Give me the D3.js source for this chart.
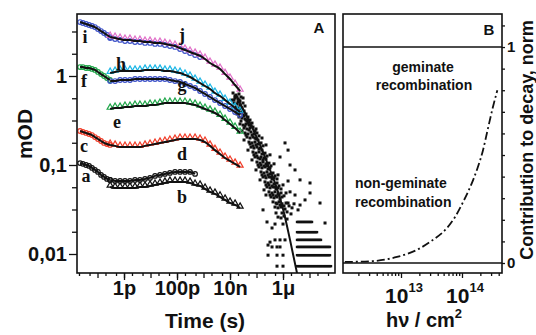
<!DOCTYPE html>
<html>
<head>
<meta charset="utf-8">
<script src="https://cdnjs.cloudflare.com/ajax/libs/d3/7.8.5/d3.min.js"></script>
<style>
  body { margin: 0; background: #fff; }
  text { font-family: "Liberation Sans", Arial, sans-serif; font-weight: bold; fill: #111; }
  .lbl { font-family: "Liberation Serif", "Times New Roman", serif; }
</style>
</head>
<body>
<svg id="chart" width="536" height="335"></svg>
<script>
// ---------- panel A data (time grids in ps, signal in mOD) ----------
var tEarlyPs = [0.022, 0.028, 0.037, 0.048, 0.062, 0.080, 0.104, 0.136, 0.176, 0.228, 0.296];
var tLatePs = [0.30, 0.46, 0.71, 1.09, 1.68, 2.6, 4.0, 6.2, 9.6, 14.8, 22.8, 35, 54, 84, 130, 200,
  310, 480, 740, 1140, 1760, 2700, 4200, 6500, 10000, 15500, 24000];

var iEarly = [4.04, 3.94, 3.84, 3.74, 3.65, 3.55, 3.37, 3.2, 3.04, 2.89, 2.74];
var fEarly = [1.26, 1.26, 1.23, 1.23, 1.2, 1.17, 1.11, 1.05, 1.0, 0.948, 0.902];
var cEarly = [0.241, 0.235, 0.229, 0.223, 0.217, 0.206, 0.196, 0.186, 0.177, 0.172, 0.168];
var aEarly = [0.105, 0.103, 0.1, 0.0977, 0.0928, 0.088, 0.0836, 0.0774, 0.0735, 0.0698, 0.068];

var jLate = [2.74, 2.67, 2.6, 2.54, 2.54, 2.47, 2.47, 2.41, 2.41, 2.35, 2.35, 2.29, 2.23, 2.17,
  2.06, 1.96, 1.86, 1.77, 1.68, 1.55, 1.40, 1.30, 1.2, 1.05, 0.925, 0.792, 0.678];
var iLate = [2.67, 2.6, 2.54, 2.47, 2.47, 2.41, 2.41, 2.35, 2.35, 2.29, 2.29, 2.23, 2.17, 2.12,
  2.01, 1.91, 1.81, 1.72, 1.63];
var hLate = [1.08, 1.11, 1.14, 1.14, 1.14, 1.14, 1.14, 1.17, 1.17, 1.17, 1.17, 1.14, 1.14, 1.11,
  1.08, 1.03, 0.974, 0.902, 0.834, 0.772, 0.714, 0.644, 0.596, 0.537, 0.485, 0.437, 0.394];
var gLate = [0.878, 0.878, 0.902, 0.902, 0.902, 0.925, 0.925, 0.925, 0.925, 0.925, 0.925, 0.925,
  0.902, 0.878, 0.856, 0.813, 0.772, 0.733, 0.678, 0.628, 0.581, 0.537, 0.497, 0.46, 0.426, 0.394, 0.365];
var eLate = [0.426, 0.437, 0.437, 0.449, 0.449, 0.46, 0.46, 0.46, 0.472, 0.472, 0.485, 0.497, 0.497,
  0.497, 0.497, 0.497, 0.485, 0.472, 0.449, 0.426, 0.405, 0.384, 0.355, 0.32, 0.289, 0.26, 0.229];
var dLate = [0.168, 0.164, 0.159, 0.159, 0.159, 0.159, 0.159, 0.164, 0.168, 0.172, 0.177, 0.181,
  0.186, 0.191, 0.196, 0.196, 0.196, 0.196, 0.191, 0.181, 0.164, 0.147, 0.133, 0.12, 0.111, 0.103, 0.0953];
var aLate = [0.068, 0.0663, 0.0663, 0.0663, 0.0663, 0.068, 0.068, 0.0698, 0.0716, 0.0754, 0.0774,
  0.0794, 0.0815, 0.0836, 0.0836, 0.0836, 0.0836, 0.0794];
var bLate = [0.0567, 0.0553, 0.0553, 0.0553, 0.0553, 0.0553, 0.0567, 0.0567, 0.0582, 0.0597, 0.0613,
  0.0629, 0.0646, 0.0646, 0.0646, 0.0646, 0.0629, 0.0597, 0.0582, 0.0539, 0.0499, 0.0474, 0.0439,
  0.0405, 0.0375, 0.0356, 0.033];

// late decay (ns, mOD)
var lateFitNs = [20, 36.8, 67.6, 136, 272, 545, 1000, 1840, 3380];
var lateFitOD = [0.552, 0.384, 0.267, 0.168, 0.1, 0.0582, 0.032, 0.0144, 0.0061];

var scatterNs = [
  [13, 0.644], [16.8, 0.611], [21.8, 0.628], [15.4, 0.566], [20, 0.552], [26, 0.581], [11.9, 0.537], [23.8, 0.524],
  [14.2, 0.497], [18.4, 0.485], [23.8, 0.472], [31, 0.497], [16.8, 0.449], [21.8, 0.437], [28.4, 0.426], [36.8, 0.46], [20, 0.404], [33.8, 0.404],
  [18.4, 0.374], [23.8, 0.384], [31, 0.365], [40, 0.374], [21.8, 0.346], [28.4, 0.337], [36.8, 0.329], [47.7, 0.346], [26, 0.312], [43.8, 0.312], [56.8, 0.32],
  [23.8, 0.289], [31, 0.281], [40, 0.289], [52, 0.281], [67.6, 0.296], [33.8, 0.26], [43.8, 0.254], [56.8, 0.26], [73.7, 0.267], [28.4, 0.241], [95.6, 0.254],
  [36.8, 0.229], [47.7, 0.223], [62, 0.235], [80, 0.223], [104, 0.229], [43.8, 0.206], [56.8, 0.201], [73.7, 0.206], [95.6, 0.196], [124, 0.212], [33.8, 0.191], [161, 0.201],
  [52, 0.181], [67.6, 0.177], [87.7, 0.181], [114, 0.172], [148, 0.177], [62, 0.159], [80, 0.155], [104, 0.159], [136, 0.155], [176, 0.164], [47.7, 0.147], [228, 0.168], [1190, 0.177], [1550, 0.147],
  [73.7, 0.14], [95.6, 0.136], [124, 0.14], [161, 0.133], [209, 0.136], [87.7, 0.123], [114, 0.12], [148, 0.123], [192, 0.12], [249, 0.126], [67.6, 0.114], [323, 0.13], [771, 0.123],
  [104, 0.108], [136, 0.105], [176, 0.108], [228, 0.103], [296, 0.105], [124, 0.095], [161, 0.0928], [209, 0.095], [272, 0.0902], [353, 0.0977], [95.6, 0.088], [458, 0.103], [1840, 0.1],
  [148, 0.0836], [192, 0.0813], [249, 0.0836], [323, 0.0794], [420, 0.0813], [176, 0.0733], [228, 0.0716], [296, 0.0733], [385, 0.0697], [499, 0.0754], [136, 0.068], [648, 0.0774], [2840, 0.088],
  [209, 0.0646], [272, 0.0628], [353, 0.0646], [458, 0.0613], [594, 0.0628], [249, 0.0566], [323, 0.0553], [420, 0.0566], [545, 0.0538], [707, 0.0582], [192, 0.0525], [1000, 0.0597], [4390, 0.068], [1550, 0.0661],
  [296, 0.0499], [385, 0.0485], [499, 0.0499], [648, 0.0474], [841, 0.0485], [353, 0.0437], [458, 0.0427], [594, 0.0437], [771, 0.0415], [1090, 0.045], [1840, 0.0499], [2840, 0.046], [10460, 0.0628], [10460, 0.0485], [228, 0.046],
  [420, 0.0385], [545, 0.0374], [707, 0.0385], [917, 0.0366], [1300, 0.0374], [499, 0.0337], [648, 0.033], [841, 0.0337], [1190, 0.032], [1690, 0.0347], [176, 0.0313], [2600, 0.0366], [4390, 0.0355], [24900, 0.0374], [6770, 0.0405],
  [648, 0.026], [841, 0.0254], [1090, 0.0267], [1420, 0.0247], [249, 0.0229], [499, 0.0217], [1000, 0.0217], [38500, 0.0223], [385, 0.0196],
  [323, 0.0136], [272, 0.0126], [499, 0.0144], [771, 0.0144], [1190, 0.0144], [385, 0.012], [594, 0.012], [771, 0.012], [594, 0.0097], [272, 0.0097], [1000, 0.0097], [594, 0.0073], [1000, 0.0073],
  [15.4, 0.596], [20, 0.51], [26, 0.437], [16.8, 0.394], [21.8, 0.537], [28.4, 0.394], [33.8, 0.355], [40, 0.32], [47.7, 0.296], [62, 0.274], [36.8, 0.274],
  [52, 0.247], [67.6, 0.217], [87.7, 0.241], [40, 0.217], [87.7, 0.201], [114, 0.191], [56.8, 0.172], [73.7, 0.164], [95.6, 0.168], [124, 0.151], [161, 0.147],
  [80, 0.13], [104, 0.126], [136, 0.117], [176, 0.114], [228, 0.117], [114, 0.1], [148, 0.1], [192, 0.0977], [249, 0.0977], [323, 0.0928],
  [161, 0.0774], [209, 0.0754], [272, 0.0774], [353, 0.0733], [458, 0.0716], [594, 0.0697], [228, 0.0597], [296, 0.0597], [385, 0.0582], [499, 0.0566],
  [648, 0.0553], [841, 0.0538], [323, 0.046], [420, 0.046], [545, 0.045], [707, 0.046], [917, 0.0437], [1300, 0.0485], [594, 0.0366], [771, 0.0355],
  [1090, 0.0347], [1550, 0.0374], [2190, 0.033], [1420, 0.0297], [917, 0.0289], [2000, 0.0282], [3690, 0.0313], [545, 0.0289], [31, 0.566], [14.2, 0.537], [18.4, 0.581]
];

// quantised noise-floor rows at long times
var rowTimesNs = [3380, 3690, 4020, 4390, 4780, 5220, 5690, 6210, 6770, 7390, 8060, 8790, 9590, 10460,
  11400, 12440, 13600, 14800, 16100, 17600, 19200, 20950, 22800, 24900, 27100, 29600, 32300, 35300,
  38500, 41900, 45700, 49900, 54400, 59300, 64700];
var rowLevels = [0.0229, 0.0176, 0.0144, 0.012, 0.0097, 0.0073];
var rowEndNs = [12440, 19200, 27100, 59300, 59300, 64700];

var yTicksA = [1, 0.1, 0.01];
var yTickLabelsA = ["1", "0,1", "0,01"];
var xTicksA = [1e-12, 1e-10, 1e-8, 1e-6];
var xTickLabelsA = ["1p", "100p", "10n", "1\u03bc"];

// ---------- panel B data ----------
var fluence = [1.2e12, 3.5e12, 8.6e12, 1.8e13, 3.3e13, 5.3e13, 7.7e13, 1.04e14, 1.52e14, 1.8e14, 2.2e14, 2.65e14, 3.2e14, 3.8e14];
var nonGeminate = [0.005, 0.009, 0.028, 0.06, 0.106, 0.153, 0.213, 0.282, 0.384, 0.44, 0.52, 0.62, 0.72, 0.8];
var geminateLevel = 1;
var zeroLevel = 0;

var BLUE = "#3b50c8", PINK = "#e06ec8", CYAN = "#1ab6e6", GREEN = "#1ea548", RED = "#f03c28", BLACK = "#111";

var series = [
  { t: tEarlyPs, v: iEarly, color: BLUE, shape: "circle" },
  { t: tLatePs.slice(0, iLate.length), v: iLate, color: BLUE, shape: "circle", noFit: true },
  { t: tLatePs, v: jLate, color: PINK, shape: "triangle" },
  { t: tEarlyPs, v: fEarly, color: GREEN, shape: "circle" },
  { t: tLatePs, v: gLate, color: BLUE, shape: "circle" },
  { t: tLatePs, v: hLate, color: CYAN, shape: "triangle" },
  { t: tLatePs, v: eLate, color: GREEN, shape: "triangle" },
  { t: tEarlyPs, v: cEarly, color: RED, shape: "circle" },
  { t: tLatePs, v: dLate, color: RED, shape: "triangle" },
  { t: tEarlyPs, v: aEarly, color: BLACK, shape: "circle" },
  { t: tLatePs.slice(0, aLate.length), v: aLate, color: BLACK, shape: "circle" },
  { t: tLatePs, v: bLate, color: BLACK, shape: "triangle" }
];

var curveLabels = [
  ["i", 85, 43], ["j", 182, 41], ["f", 84, 87], ["h", 121, 70], ["g", 182, 91],
  ["e", 117, 128], ["c", 84, 152], ["d", 182, 160], ["a", 86, 182], ["b", 182, 203]
];

var svg = d3.select("#chart");

// ---------- panel A ----------
var xA = d3.scaleLog().domain([Math.pow(10, -13.774), Math.pow(10, -4.038)]).range([77, 335]);
var yA = d3.scaleLog().domain([Math.pow(10, -2.2135), Math.pow(10, 0.6966)]).range([273, 14]);

svg.append("clipPath").attr("id", "clipA").append("rect")
  .attr("x", 77).attr("y", 14).attr("width", 258).attr("height", 259);

var plotA = svg.append("g").attr("clip-path", "url(#clipA)");

// scatter of the long-time decay
plotA.append("g").selectAll("rect").data(scatterNs).enter().append("rect")
  .attr("x", function (d) { return xA(d[0] * 1e-9) - 1.5; })
  .attr("y", function (d) { return yA(d[1]) - 1.5; })
  .attr("width", 3).attr("height", 3).attr("fill", BLACK);

var rowPts = [];
rowLevels.forEach(function (lv, k) {
  rowTimesNs.forEach(function (t) { if (t <= rowEndNs[k]) rowPts.push([t, lv]); });
});
plotA.append("g").selectAll("rect").data(rowPts).enter().append("rect")
  .attr("x", function (d) { return xA(d[0] * 1e-9) - 1.2; })
  .attr("y", function (d) { return yA(d[1]) - 1.2; })
  .attr("width", 2.4).attr("height", 2.4).attr("fill", BLACK);

// markers
var tri = d3.symbol().type(d3.symbolTriangle).size(16);
series.forEach(function (s) {
  var pts = s.t.map(function (t, i) { return [t * 1e-12, s.v[i]]; });
  var g = plotA.append("g");
  if (s.shape === "circle") {
    g.selectAll("circle").data(pts).enter().append("circle")
      .attr("cx", function (d) { return xA(d[0]); })
      .attr("cy", function (d) { return yA(d[1]); })
      .attr("r", 2.3).attr("fill", "none").attr("stroke", s.color).attr("stroke-width", 1.2);
  } else {
    g.selectAll("path").data(pts).enter().append("path")
      .attr("d", tri)
      .attr("transform", function (d) { return "translate(" + xA(d[0]) + "," + (yA(d[1]) - 1.5) + ")"; })
      .attr("fill", "none").attr("stroke", s.color).attr("stroke-width", 1.2);
  }
});

// black fit lines on top
var fitLine = d3.line()
  .x(function (d) { return xA(d[0]); })
  .y(function (d) { return yA(d[1]); })
  .curve(d3.curveMonotoneX);
series.forEach(function (s) {
  if (s.noFit) return;
  var pts = s.t.map(function (t, i) { return [t * 1e-12, s.v[i]]; });
  plotA.append("path").attr("d", fitLine(pts))
    .attr("fill", "none").attr("stroke", BLACK).attr("stroke-width", 2);
});
var latePts = lateFitNs.map(function (t, i) { return [t * 1e-9, lateFitOD[i]]; });
plotA.append("path").attr("d", fitLine(latePts))
  .attr("fill", "none").attr("stroke", BLACK).attr("stroke-width", 2);

// curve letters
svg.append("g").selectAll("text").data(curveLabels).enter().append("text")
  .attr("class", "lbl")
  .attr("x", function (d) { return d[1]; }).attr("y", function (d) { return d[2]; })
  .attr("text-anchor", "middle").style("font-size", "18px")
  .text(function (d) { return d[0]; });

// axes A
var yMinorA = d3.range(-8, 3).map(function (k) { return Math.pow(10, k / 4); })
  .filter(function (v) { return yTicksA.indexOf(v) < 0; });
var xDecA = d3.range(-13, -4).map(function (e) { return Math.pow(10, e); });
var xMinorA = [];
d3.range(-14, -4).forEach(function (e) {
  [2, 5].forEach(function (m) {
    var v = m * Math.pow(10, e);
    if (v > xA.domain()[0] && v < xA.domain()[1]) xMinorA.push(v);
  });
});

function styleAxis(g) {
  g.select(".domain").remove();
  g.selectAll("line").attr("stroke", BLACK).attr("stroke-width", 1.3);
  g.selectAll("text").style("font-size", "20px").attr("fill", BLACK);
}

svg.append("g").attr("transform", "translate(77,0)")
  .call(d3.axisLeft(yA).tickValues(yMinorA).tickSize(5).tickFormat("")).call(styleAxis);
svg.append("g").attr("transform", "translate(77,0)")
  .call(d3.axisLeft(yA).tickValues(yTicksA).tickSize(8).tickPadding(2)
    .tickFormat(function (d, i) { return yTickLabelsA[i]; })).call(styleAxis);

svg.append("g").attr("transform", "translate(0,273)")
  .call(d3.axisBottom(xA).tickValues(xMinorA).tickSize(3).tickFormat("")).call(styleAxis);
svg.append("g").attr("transform", "translate(0,273)")
  .call(d3.axisBottom(xA).tickValues(xDecA).tickSize(5).tickFormat("")).call(styleAxis);
svg.append("g").attr("transform", "translate(0,273)")
  .call(d3.axisBottom(xA).tickValues(xTicksA).tickSize(7).tickPadding(1)
    .tickFormat(function (d, i) { return xTickLabelsA[i]; })).call(styleAxis);

svg.append("rect").attr("x", 77).attr("y", 14).attr("width", 258).attr("height", 259)
  .attr("fill", "none").attr("stroke", BLACK).attr("stroke-width", 1.6);

svg.append("text").attr("x", 319).attr("y", 33).attr("text-anchor", "middle")
  .style("font-size", "15px").text("A");

svg.append("text").attr("x", 205).attr("y", 328).attr("text-anchor", "middle")
  .style("font-size", "21px").text("Time (s)");
svg.append("text").attr("transform", "translate(32,134) rotate(-90)").attr("text-anchor", "middle")
  .style("font-size", "21px").text("mOD");

// ---------- panel B ----------
var xB = d3.scaleLog().domain([Math.pow(10, 12.049), Math.pow(10, 14.656)]).range([343, 502]);
var yB = d3.scaleLinear().domain([-0.0463, 1.153]).range([273, 14]);

var xMinorB = [];
d3.range(12, 15).forEach(function (e) {
  d3.range(2, 10).forEach(function (m) {
    var v = m * Math.pow(10, e);
    if (v > xB.domain()[0] && v < xB.domain()[1]) xMinorB.push(v);
  });
});
var xMajorB = [1e13, 1e14];

svg.append("g").attr("transform", "translate(0,273)")
  .call(d3.axisBottom(xB).tickValues(xMinorB).tickSize(3).tickFormat("")).call(styleAxis);
svg.append("g").attr("transform", "translate(0,273)")
  .call(d3.axisBottom(xB).tickValues(xMajorB).tickSize(5).tickFormat("")).call(styleAxis);

var yTicksB = d3.range(0, 12).map(function (k) { return k / 10; });
svg.append("g").attr("transform", "translate(502,0)")
  .call(d3.axisRight(yB).tickValues(yTicksB).tickSize(3).tickPadding(2)
    .tickFormat(function (d) { return d === 0 ? "0" : (Math.abs(d - 1) < 1e-9 ? "1" : ""); }))
  .call(styleAxis)
  .selectAll("text").style("font-size", "15px");

[geminateLevel, zeroLevel].forEach(function (lv) {
  svg.append("line").attr("x1", 343).attr("x2", 502).attr("y1", yB(lv)).attr("y2", yB(lv))
    .attr("stroke", BLACK).attr("stroke-width", 1.6);
});

var dashLine = d3.line()
  .x(function (d) { return xB(d[0]); })
  .y(function (d) { return yB(d[1]); })
  .curve(d3.curveMonotoneX);
svg.append("path").attr("d", dashLine(fluence.map(function (f, i) { return [f, nonGeminate[i]]; })))
  .attr("fill", "none").attr("stroke", BLACK).attr("stroke-width", 1.8)
  .attr("stroke-dasharray", "8,3,2,3");

svg.append("rect").attr("x", 343).attr("y", 14).attr("width", 159).attr("height", 259)
  .attr("fill", "none").attr("stroke", BLACK).attr("stroke-width", 1.6);

svg.append("text").attr("x", 489).attr("y", 35).attr("text-anchor", "middle")
  .style("font-size", "15px").text("B");

svg.append("text").attr("x", 423).attr("y", 72).attr("text-anchor", "middle")
  .style("font-size", "14px").text("geminate");
svg.append("text").attr("x", 424).attr("y", 90).attr("text-anchor", "middle")
  .style("font-size", "14px").text("recombination");
svg.append("text").attr("x", 355).attr("y", 188).style("font-size", "14px").text("non-geminate");
svg.append("text").attr("x", 355).attr("y", 207).style("font-size", "14px").text("recombination");

xMajorB.forEach(function (v, i) {
  var t = svg.append("text").attr("x", xB(v) + 3).attr("y", 303).attr("text-anchor", "middle")
    .style("font-size", "21px");
  t.append("tspan").text("10");
  t.append("tspan").attr("dy", -11).style("font-size", "13px").text(i === 0 ? "13" : "14");
});

var xl = svg.append("text").attr("x", 424).attr("y", 327).attr("text-anchor", "middle")
  .style("font-size", "20px");
xl.append("tspan").text("h\u03bd / cm");
xl.append("tspan").attr("dy", -9).style("font-size", "13px").text("2");

svg.append("text").attr("transform", "translate(533,140) rotate(-90)").attr("text-anchor", "middle")
  .style("font-size", "18px").text("Contribution to decay, norm");
</script>
</body>
</html>
